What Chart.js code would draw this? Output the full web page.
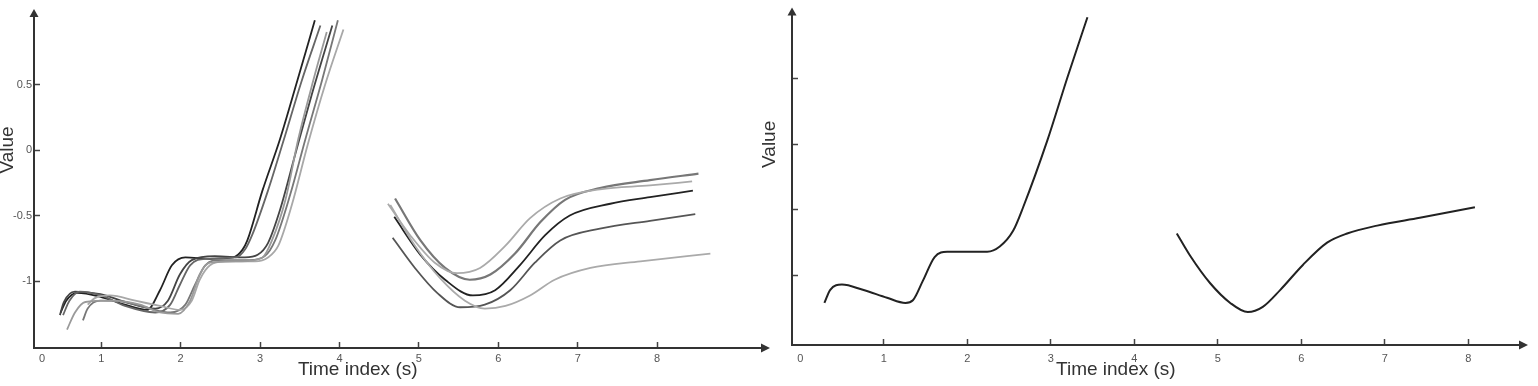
<!DOCTYPE html>
<html>
<head>
<meta charset="utf-8">
<script src="https://cdn.jsdelivr.net/npm/chart.js@4.4.0/dist/chart.umd.min.js"></script>
<style>
  html, body { margin: 0; padding: 0; background: #fff; }
  body { width: 1538px; height: 386px; position: relative; overflow: hidden; }
  canvas { position: absolute; top: 0; }
  #left { left: 0; }
  #right { left: 755px; }
</style>
</head>
<body>
<canvas id="left" width="770" height="386"></canvas>
<canvas id="right" width="783" height="386"></canvas>
<script>
// tick values shared by both panels
const xTicks = [0, 1, 2, 3, 4, 5, 6, 7, 8];
const yTicks = [-1, -0.5, 0, 0.5];

// left panel, first segment: [time (s), value]
const riseA1 = [[0.49,-1.24],[0.56,-1.15],[0.70,-1.09],[0.99,-1.12],[1.30,-1.18],[1.58,-1.22],[1.74,-1.07],[1.89,-0.88],[2.06,-0.82],[2.37,-0.83],[2.66,-0.82],[2.78,-0.76],[2.84,-0.69],[3.03,-0.31],[3.25,0.08],[3.47,0.53],[3.69,0.99]];
const riseA2 = [[0.52,-1.26],[0.60,-1.15],[0.73,-1.08],[1.00,-1.11],[1.30,-1.19],[1.68,-1.24],[1.87,-1.18],[1.99,-1.03],[2.12,-0.88],[2.31,-0.83],[2.70,-0.82],[2.81,-0.76],[2.90,-0.65],[3.10,-0.31],[3.30,0.08],[3.52,0.52],[3.76,0.95]];
const riseA3 = [[0.57,-1.37],[0.67,-1.24],[0.80,-1.16],[1.11,-1.15],[1.49,-1.18],[1.74,-1.24],[1.97,-1.25],[2.12,-1.15],[2.24,-0.95],[2.37,-0.86],[2.75,-0.85],[3.03,-0.82],[3.15,-0.69],[3.32,-0.38],[3.48,0.08],[3.67,0.53],[3.84,0.90]];
const riseA4 = [[0.77,-1.30],[0.83,-1.21],[0.99,-1.15],[1.30,-1.16],[1.61,-1.21],[1.87,-1.24],[2.06,-1.18],[2.18,-1.03],[2.31,-0.88],[2.50,-0.84],[2.87,-0.84],[3.06,-0.81],[3.19,-0.69],[3.38,-0.34],[3.57,0.08],[3.78,0.53],[3.98,0.99]];
const riseA5 = [[0.83,-1.18],[0.92,-1.13],[1.11,-1.11],[1.43,-1.15],[1.74,-1.19],[1.99,-1.22],[2.14,-1.15],[2.24,-0.99],[2.37,-0.88],[2.56,-0.85],[2.94,-0.85],[3.10,-0.82],[3.23,-0.73],[3.40,-0.42],[3.60,0.04],[3.82,0.50],[4.05,0.92]];
const riseA6 = [[0.48,-1.26],[0.53,-1.16],[0.67,-1.08],[0.99,-1.10],[1.36,-1.17],[1.68,-1.21],[1.84,-1.15],[1.99,-0.95],[2.14,-0.84],[2.43,-0.81],[2.81,-0.82],[2.97,-0.80],[3.10,-0.71],[3.25,-0.46],[3.44,-0.04],[3.65,0.42],[3.91,0.95]];

// left panel, second segment
const dipB1 = [[4.70,-0.37],[5.02,-0.69],[5.33,-0.90],[5.64,-0.99],[5.90,-0.95],[6.21,-0.79],[6.53,-0.55],[6.84,-0.38],[7.28,-0.29],[7.91,-0.23],[8.52,-0.18]];
const dipB2 = [[4.61,-0.41],[4.89,-0.65],[5.20,-0.86],[5.48,-0.94],[5.77,-0.90],[6.09,-0.73],[6.40,-0.52],[6.78,-0.37],[7.28,-0.30],[7.91,-0.27],[8.44,-0.24]];
const dipB3 = [[4.69,-0.51],[5.02,-0.80],[5.33,-0.99],[5.68,-1.11],[5.96,-1.07],[6.27,-0.88],[6.59,-0.65],[6.90,-0.50],[7.41,-0.41],[7.91,-0.36],[8.45,-0.31]];
const dipB4 = [[4.67,-0.67],[4.95,-0.90],[5.23,-1.09],[5.52,-1.20],[5.83,-1.18],[6.15,-1.07],[6.46,-0.86],[6.78,-0.69],[7.28,-0.60],[7.91,-0.54],[8.48,-0.49]];
const dipB5 = [[4.64,-0.42],[4.95,-0.73],[5.27,-0.98],[5.58,-1.15],[5.83,-1.21],[6.09,-1.19],[6.40,-1.11],[6.71,-0.99],[7.16,-0.90],[7.79,-0.85],[8.67,-0.79]];

// right panel, single curve per segment
const meanRise = [[0.29,-1.21],[0.36,-1.11],[0.50,-1.07],[0.75,-1.11],[1.04,-1.17],[1.26,-1.21],[1.35,-1.19],[1.47,-1.04],[1.61,-0.86],[1.76,-0.82],[2.00,-0.82],[2.24,-0.82],[2.39,-0.78],[2.55,-0.66],[2.67,-0.48],[2.96,0.03],[3.20,0.51],[3.44,0.97]];
const meanDip = [[4.51,-0.68],[4.67,-0.85],[4.91,-1.06],[5.15,-1.21],[5.36,-1.28],[5.54,-1.24],[5.75,-1.11],[6.02,-0.92],[6.31,-0.75],[6.55,-0.68],[6.91,-0.62],[7.42,-0.56],[8.08,-0.48]];

function curve(points, color, width) {
    return {
        data: points.map(p => ({ x: p[0], y: p[1] })),
        borderColor: color,
        borderWidth: width,
        pointRadius: 0,
        fill: false,
        cubicInterpolationMode: 'monotone'
    };
}

// arrow heads and axis titles
const axisDecor = {
    id: 'axisDecor',
    afterDraw(chart, args, opts) {
        const { ctx, chartArea: a, scales } = chart;
        ctx.save();
        ctx.fillStyle = '#333';
        ctx.beginPath();
        ctx.moveTo(a.left, a.top - 7);
        ctx.lineTo(a.left - 4.5, a.top + 1);
        ctx.lineTo(a.left + 4.5, a.top + 1);
        ctx.closePath();
        ctx.fill();
        ctx.beginPath();
        ctx.moveTo(a.right + 8, a.bottom);
        ctx.lineTo(a.right - 1, a.bottom - 4.5);
        ctx.lineTo(a.right - 1, a.bottom + 4.5);
        ctx.closePath();
        ctx.fill();

        ctx.font = '19px "Liberation Sans", Arial, sans-serif';
        ctx.fillStyle = '#333';
        ctx.textAlign = 'center';
        ctx.textBaseline = 'middle';
        ctx.fillText('Time index (s)', scales.x.getPixelForValue(opts.xTitleAt), a.bottom + opts.xTitleDrop);
        ctx.translate(opts.yTitleX, scales.y.getPixelForValue(0));
        ctx.rotate(-Math.PI / 2);
        ctx.fillText('Value', 0, 0);
        ctx.restore();
    }
};

function makeChart(id, datasets, cfg) {
    const tickFont = { family: '"Liberation Sans", Arial, sans-serif', size: 11 };
    return new Chart(document.getElementById(id), {
        type: 'line',
        data: { datasets: datasets },
        plugins: [axisDecor],
        options: {
            responsive: false,
            animation: false,
            layout: { padding: { left: 0, right: cfg.padRight, top: cfg.padTop, bottom: 0 } },
            plugins: {
                legend: { display: false },
                tooltip: { enabled: false },
                axisDecor: { xTitleAt: cfg.xTitleAt, xTitleDrop: cfg.xTitleDrop, yTitleX: cfg.yTitleX }
            },
            scales: {
                x: {
                    type: 'linear',
                    min: cfg.xMin,
                    max: cfg.xMax,
                    afterBuildTicks: s => { s.ticks = xTicks.map(v => ({ value: Math.max(v, s.min + 0.1) })); },
                    afterFit: s => { s.height = cfg.xHeight; },
                    border: { display: true, color: '#333', width: 2 },
                    grid: {
                        drawOnChartArea: false,
                        tickLength: -6,
                        tickWidth: 1.5,
                        tickColor: c => c.index === 0 ? 'rgba(0,0,0,0)' : '#444'
                    },
                    ticks: {
                        autoSkip: false,
                        maxRotation: 0,
                        padding: cfg.xTickPad,
                        color: '#555',
                        font: tickFont,
                        callback: v => String(Math.round(v))
                    }
                },
                y: {
                    min: cfg.yMin,
                    max: cfg.yMax,
                    afterBuildTicks: s => { s.ticks = yTicks.map(v => ({ value: v })); },
                    afterFit: s => { s.width = cfg.yWidth; },
                    border: { display: true, color: '#333', width: 2 },
                    grid: { drawOnChartArea: false, tickLength: -6, tickWidth: 1.5, tickColor: '#444' },
                    ticks: {
                        padding: 8,
                        color: '#555',
                        font: tickFont,
                        callback: v => cfg.yLabels ? String(v) : ''
                    }
                }
            }
        }
    });
}

makeChart('left', [
    curve(riseA3, '#9a9a9a', 1.8),
    curve(riseA5, '#a8a8a8', 1.8),
    curve(riseA4, '#777', 1.8),
    curve(riseA2, '#666', 1.8),
    curve(riseA6, '#444', 1.8),
    curve(riseA1, '#222', 1.8),
    curve(dipB5, '#aaa', 1.8),
    curve(dipB2, '#aaa', 1.8),
    curve(dipB1, '#777', 2.2),
    curve(dipB4, '#555', 1.8),
    curve(dipB3, '#222', 1.8)
], {
    xMin: 0.154, xMax: 9.32, yMin: -1.511, yMax: 1.023,
    padRight: 8, padTop: 16, xHeight: 38, yWidth: 34, xTickPad: 10,
    xTitleAt: 4.23, xTitleDrop: 22, yTitleX: 8, yLabels: true
});

makeChart('right', [
    curve(meanRise, '#222', 2),
    curve(meanDip, '#222', 2)
], {
    xMin: -0.098, xMax: 8.62, yMin: -1.531, yMax: 0.99,
    padRight: 18, padTop: 14, xHeight: 41, yWidth: 37, xTickPad: 13,
    xTitleAt: 3.78, xTitleDrop: 25, yTitleX: 15, yLabels: false
});
</script>
</body>
</html>
